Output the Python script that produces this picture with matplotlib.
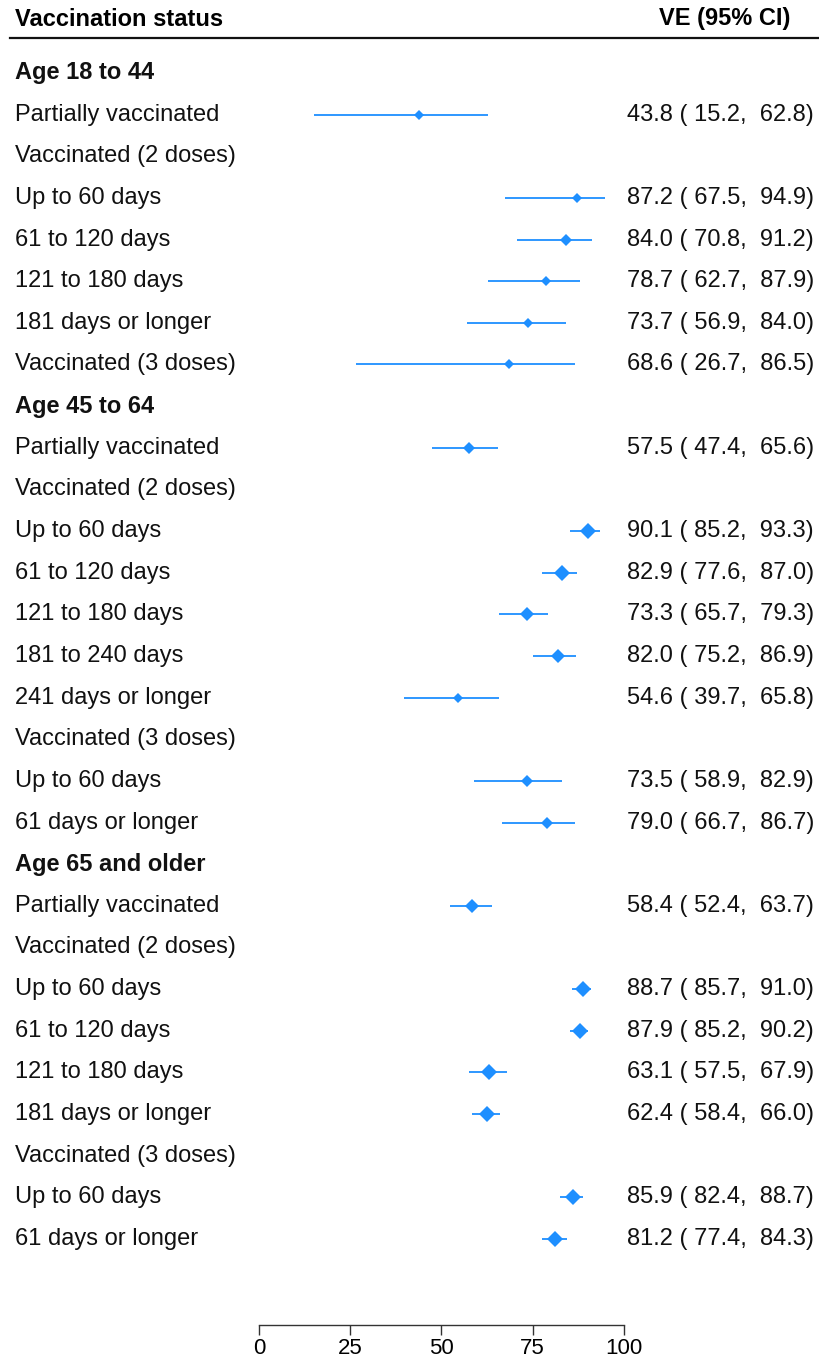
import matplotlib
matplotlib.use("Agg")
import matplotlib.pyplot as plt
import matplotlib.transforms as mtransforms

plt.rcParams['font.family'] = ['Liberation Sans', 'DejaVu Sans']

# row labels, None = heading/no estimate
labels = ["Age 18 to 44", "Partially vaccinated", "Vaccinated (2 doses)", "Up to 60 days",
          "61 to 120 days", "121 to 180 days", "181 days or longer", "Vaccinated (3 doses)",
          "Age 45 to 64", "Partially vaccinated", "Vaccinated (2 doses)", "Up to 60 days",
          "61 to 120 days", "121 to 180 days", "181 to 240 days", "241 days or longer",
          "Vaccinated (3 doses)", "Up to 60 days", "61 days or longer",
          "Age 65 and older", "Partially vaccinated", "Vaccinated (2 doses)", "Up to 60 days",
          "61 to 120 days", "121 to 180 days", "181 days or longer", "Vaccinated (3 doses)",
          "Up to 60 days", "61 days or longer"]
headings = ["Age 18 to 44", "Age 45 to 64", "Age 65 and older"]

ve = [None, 43.8, None, 87.2, 84.0, 78.7, 73.7, 68.6,
      None, 57.5, None, 90.1, 82.9, 73.3, 82.0, 54.6, None, 73.5, 79.0,
      None, 58.4, None, 88.7, 87.9, 63.1, 62.4, None, 85.9, 81.2]
lo = [None, 15.2, None, 67.5, 70.8, 62.7, 56.9, 26.7,
      None, 47.4, None, 85.2, 77.6, 65.7, 75.2, 39.7, None, 58.9, 66.7,
      None, 52.4, None, 85.7, 85.2, 57.5, 58.4, None, 82.4, 77.4]
hi = [None, 62.8, None, 94.9, 91.2, 87.9, 84.0, 86.5,
      None, 65.6, None, 93.3, 87.0, 79.3, 86.9, 65.8, None, 82.9, 86.7,
      None, 63.7, None, 91.0, 90.2, 67.9, 66.0, None, 88.7, 84.3]

xticks = [0, 25, 50, 75, 100]

W, H = 820, 1356
fig = plt.figure(figsize=(W / 100, H / 100), dpi=100)

y0, dy = 73, 41.64
ax_top, ax_bot = 40, 1325
ax = fig.add_axes([259 / W, 1 - ax_bot / H, (624 - 259) / W, (ax_bot - ax_top) / H])
ax.set_xlim(0, 100)
ax.set_ylim((ax_bot - y0) / dy, (ax_top - y0) / dy)
for s in ["top", "right", "left"]:
    ax.spines[s].set_visible(False)
ax.spines["bottom"].set_color("#333333")
ax.spines["bottom"].set_linewidth(1.0)
ax.set_yticks([])
ax.set_xticks(xticks)
ax.tick_params(axis="x", length=7, width=1.0, color="#333333", labelsize=16, pad=2)

fs = 17
blue = "#1E8FFF"
trans = mtransforms.blended_transform_factory(fig.transFigure, ax.transData)
for i, lab in enumerate(labels):
    bold = lab in headings and ve[i] is None
    ax.text(15 / W, i, lab, transform=trans, ha="left", va="center", fontsize=fs,
            fontweight="bold" if bold else "normal", color="#111111")
    if ve[i] is None:
        continue
    ax.plot([lo[i], hi[i]], [i, i], color=blue, lw=1.3, solid_capstyle="butt")
    ms = min(8, max(4.5, 40 / (hi[i] - lo[i]) + 4))
    ax.plot(ve[i], i, marker="D", color=blue, ms=ms, mec=blue, mew=0)
    ax.text(814 / W, i, "%.1f ( %.1f,  %.1f)" % (ve[i], lo[i], hi[i]), transform=trans,
            ha="right", va="center", fontsize=fs, color="#111111")

fig.text(15 / W, 1 - 19 / H, "Vaccination status", ha="left", va="center",
         fontsize=fs, fontweight="bold")
fig.text(790 / W, 1 - 19 / H, "VE (95% CI)", ha="right", va="center",
         fontsize=fs, fontweight="bold")
fig.add_artist(plt.Line2D([10 / W, 1], [1 - 38 / H, 1 - 38 / H], color="#111111", lw=1.6))

fig.savefig("out.png", dpi=100)
